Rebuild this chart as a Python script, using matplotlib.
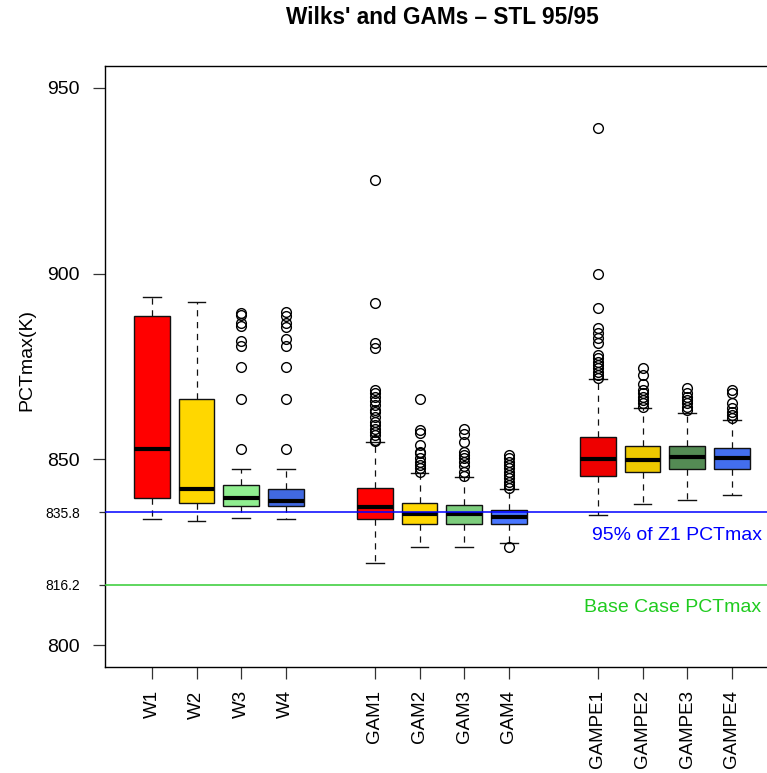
import matplotlib
matplotlib.use("Agg")
import matplotlib.pyplot as plt

plt.rcParams['font.family'] = ['Liberation Sans', 'DejaVu Sans']

labels = ["W1", "W2", "W3", "W4", "GAM1", "GAM2", "GAM3", "GAM4",
          "GAMPE1", "GAMPE2", "GAMPE3", "GAMPE4"]
positions = [1, 2, 3, 4, 6, 7, 8, 9, 11, 12, 13, 14]
colors = ["#FF0000", "#FFD700", "#90EE90", "#4169E1",
          "#FF0000", "#FFD700", "#7CCD7C", "#4876FF",
          "#EE0000", "#EEC900", "#548B54", "#436EEE"]

med = [852.8, 842.0, 839.5, 838.8, 837.3, 835.3, 835.3, 834.4, 850.0, 849.7, 850.5, 850.3]
q1 = [839.5, 838.2, 837.4, 837.4, 833.9, 832.6, 832.7, 832.5, 845.5, 846.6, 847.5, 847.5]
q3 = [888.6, 866.3, 843.1, 842.0, 842.2, 838.2, 837.7, 836.4, 855.9, 853.6, 853.6, 853.0]
whislo = [833.9, 833.3, 834.2, 833.9, 822.2, 826.5, 826.3, 827.4, 835.0, 837.9, 839.1, 840.4]
whishi = [893.8, 892.5, 847.4, 847.4, 854.8, 846.4, 845.2, 841.9, 871.6, 863.9, 862.6, 860.6]

out_w1 = []
out_w2 = []
out_w3 = [889.5, 888.9, 886.6, 885.9, 881.9, 880.5, 875.0, 866.3, 852.8]
out_w4 = [889.6, 888.7, 886.6, 885.7, 882.3, 880.5, 875.0, 866.3, 852.8]
out_gam1 = [925.2, 892.0, 881.3, 879.9, 868.7, 867.8, 866.7, 865.8, 864.6, 863.3,
            862.8, 861.5, 860.1, 859.2, 858.3, 857.4, 856.6, 855.2, 854.9]
out_gam2 = [866.2, 857.9, 857.0, 853.9, 852.1, 851.6, 850.3, 849.4, 848.5, 847.6, 846.7]
out_gam3 = [858.3, 856.8, 854.8, 852.1, 851.2, 850.3, 849.4, 848.1, 846.7, 845.5]
out_gam4 = [851.2, 850.3, 849.4, 848.5, 847.6, 846.7, 845.8, 844.9, 844.0, 843.1,
            842.2, 826.3]
out_gampe1 = [939.2, 899.8, 890.7, 885.3, 884.0, 882.6, 881.3, 878.1, 877.2, 876.3,
              875.4, 874.5, 873.6, 872.7, 871.9]
out_gampe2 = [874.5, 872.7, 870.3, 868.7, 867.8, 866.9, 866.0, 865.1, 864.2]
out_gampe3 = [869.3, 867.8, 866.9, 866.0, 865.1, 864.2, 863.3]
out_gampe4 = [868.7, 867.8, 865.1, 863.7, 862.8, 861.9, 861.0]
outliers = [out_w1, out_w2, out_w3, out_w4, out_gam1, out_gam2, out_gam3, out_gam4,
            out_gampe1, out_gampe2, out_gampe3, out_gampe4]

ref_z1 = 835.8
ref_base = 816.2
yticks_major = [800, 850, 900, 950]
yticks_ref = [816.2, 835.8]
yticks_ref_labels = ["816.2", "835.8"]

W, H = 767, 773
fig = plt.figure(figsize=(W / 100, H / 100), dpi=100)
ax = fig.add_axes([104.7 / W, 1 - 667.3 / H, (779 - 104.7) / W, (667.3 - 65.7) / H])

stats = []
for i in range(len(labels)):
    stats.append(dict(med=med[i], q1=q1[i], q3=q3[i], whislo=whislo[i],
                      whishi=whishi[i], fliers=outliers[i], label=labels[i]))

bp = ax.bxp(stats, positions=positions, widths=0.8, capwidths=0.4, patch_artist=True,
            boxprops=dict(edgecolor="#111111", linewidth=1.0),
            medianprops=dict(color="black", linewidth=3.0, solid_capstyle="butt"),
            whiskerprops=dict(color="#111111", linewidth=0.9, linestyle=(0, (5, 4.5))),
            capprops=dict(color="#111111", linewidth=1.0),
            flierprops=dict(marker="o", markerfacecolor="none", markeredgecolor="black",
                            markersize=7, markeredgewidth=1.0, linestyle="none"))
for patch, c in zip(bp["boxes"], colors):
    patch.set_facecolor(c)

ax.axhline(ref_z1, color="#0000FF", linewidth=1.1, zorder=3)
ax.axhline(ref_base, color="#33CC33", linewidth=1.1, zorder=3)

ax.set_xlim(-0.06, 15.06)
ax.set_ylim(794, 956)

ax.text(14.68, 829.6, "95% of Z1 PCTmax", color="#0000FF", fontsize=14,
        ha="right", va="center")
ax.text(14.66, 810.0, "Base Case PCTmax", color="#1FCB1F", fontsize=14,
        ha="right", va="center")

ax.set_yticks(yticks_major)
ax.set_yticklabels([str(v) for v in yticks_major])
ax.set_yticks(yticks_ref, minor=True)
ax.set_yticklabels(yticks_ref_labels, minor=True)
ax.tick_params(axis="y", which="major", length=8.6, width=0.9, pad=9.1,
               labelsize=14, color="#333333")
ax.tick_params(axis="y", which="minor", length=4.5, width=0.9, pad=13.2,
               labelsize=10, color="#333333")

ax.set_xticks(positions)
ax.set_xticklabels(labels, rotation=90, va="top", ha="center")
ax.tick_params(axis="x", length=8.6, width=0.9, pad=8.0, labelsize=13.5, color="#333333")

for s in ax.spines.values():
    s.set_linewidth(1.0)
    s.set_color("black")

fig.text(442 / W, 1 - 18 / H, "Wilks' and GAMs \u2013 STL 95/95", fontsize=16.3,
         fontweight="bold", ha="center", va="center")
fig.text(27 / W, 1 - 360 / H, "PCTmax(K)", fontsize=14, rotation=90,
         ha="center", va="center")

fig.savefig("out.png", dpi=100)
